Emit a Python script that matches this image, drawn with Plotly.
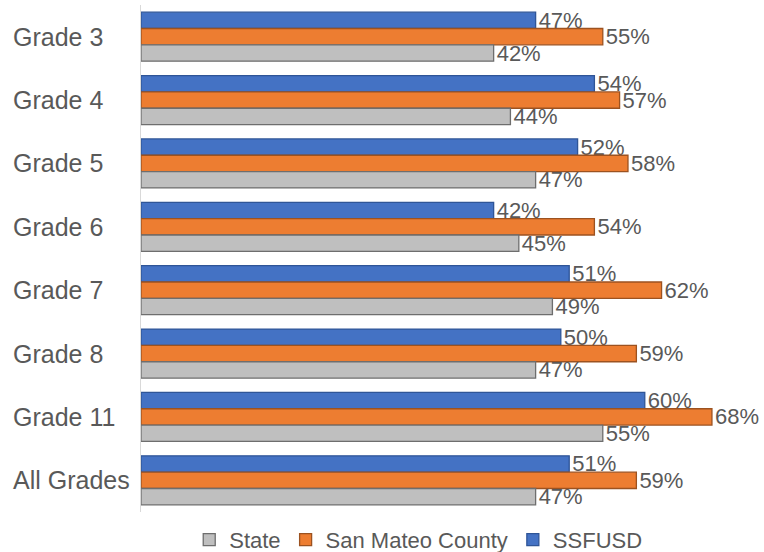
import plotly.graph_objects as go

categories = ["Grade 3", "Grade 4", "Grade 5", "Grade 6", "Grade 7", "Grade 8", "Grade 11", "All Grades"]
ssfusd = [47, 54, 52, 42, 51, 50, 60, 51]
san_mateo = [55, 57, 58, 54, 62, 59, 68, 59]
state = [42, 44, 47, 45, 49, 47, 55, 47]

FONT = "Liberation Sans, Arial, sans-serif"
TXT = "#595959"

series = [
    ("SSFUSD", ssfusd, "#4472C4", "#2F5597"),
    ("San Mateo County", san_mateo, "#ED7D31", "#9C5220"),
    ("State", state, "#BFBFBF", "#6E6E6E"),
]

fig = go.Figure()
for name, vals, col, line in series:
    fig.add_trace(go.Bar(
        y=categories, x=vals, name=name, orientation="h",
        marker=dict(color=col, line=dict(color=line, width=1.3)),
        text=[f"{v}%" for v in vals], textposition="outside",
        textfont=dict(size=22, color=TXT, family=FONT),
        constraintext="none", cliponaxis=False,
    ))

for c in categories:
    fig.add_annotation(x=-0.2087, xref="paper", y=c, yref="y", text=c,
                       showarrow=False, xanchor="left", yanchor="middle",
                       font=dict(size=25, color=TXT, family=FONT))

fig.update_layout(
    width=764, height=552,
    margin=dict(l=141, r=0, t=5, b=40, autoexpand=False),
    barmode="group", bargap=0.227, bargroupgap=0,
    plot_bgcolor="white", paper_bgcolor="white",
    font=dict(family=FONT, color=TXT),
    xaxis=dict(range=[0, 74.2], showticklabels=False, showgrid=False,
               zeroline=False, showline=False, fixedrange=True),
    yaxis=dict(autorange="reversed", showticklabels=False, showgrid=False,
               zeroline=False, showline=True, linecolor="#D9D9D9", linewidth=1,
               ticks=""),
    legend=dict(orientation="h", traceorder="reversed", x=0.445, xanchor="center",
                y=-0.055, yanchor="middle", font=dict(size=22, color=TXT, family=FONT),
                itemwidth=30, bgcolor="rgba(0,0,0,0)"),
    showlegend=True,
)

fig.write_html("out.html", config={"displayModeBar": False},
               post_script="document.body.style.margin='0';document.body.style.padding='0';")
